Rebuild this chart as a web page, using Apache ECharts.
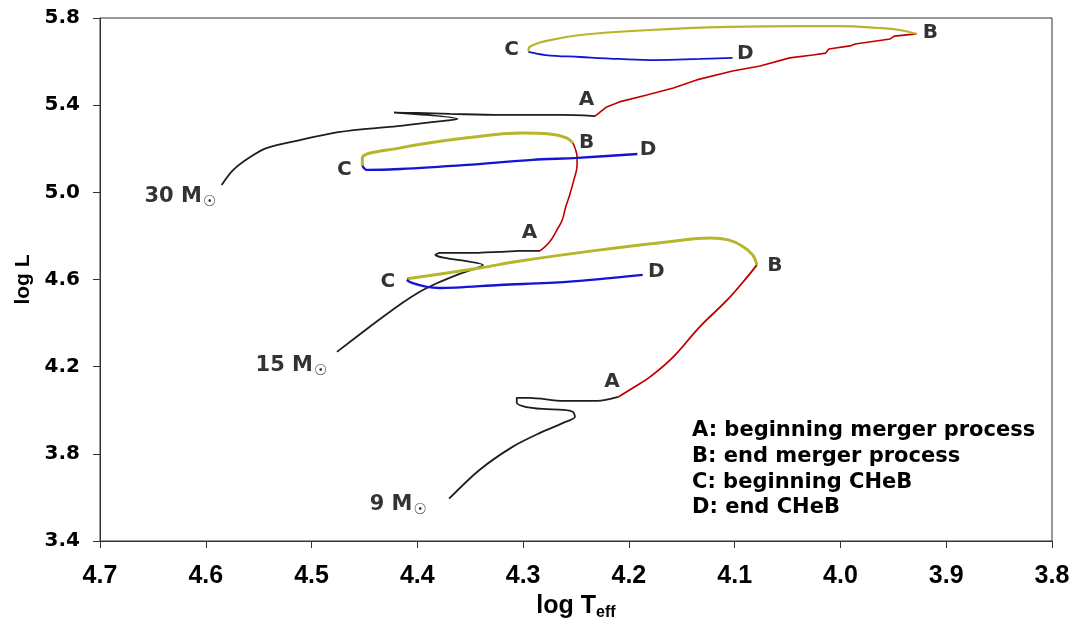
<!DOCTYPE html>
<html><head><meta charset="utf-8">
<script src="https://cdn.jsdelivr.net/npm/echarts@6/dist/echarts.min.js"></script>
<style>html,body{margin:0;padding:0;background:#fff}#c{width:1075px;height:637px}</style>
</head><body><div id="c"></div>
<script>
// ---- data (log Teff, log L) ----
const black30 = [[4.585,5.034],[4.574,5.103],[4.558,5.162],[4.542,5.204],[4.511,5.240],[4.480,5.272],[4.448,5.291],[4.416,5.305],[4.385,5.323],[4.362,5.337],[4.422,5.366],[4.400,5.364],[4.369,5.360],[4.322,5.355],[4.265,5.355],[4.232,5.350]];
const red30 = [[4.232,5.350],[4.221,5.392],[4.209,5.415],[4.183,5.447],[4.158,5.479],[4.136,5.516],[4.102,5.557],[4.076,5.580],[4.048,5.617],[4.026,5.630],[4.014,5.639],[4.011,5.658],[3.991,5.672],[3.986,5.681],[3.953,5.704],[3.949,5.717],[3.928,5.727]];
const yellow30 = [[3.928,5.727],[3.944,5.745],[3.963,5.754],[4.001,5.763],[4.038,5.763],[4.105,5.759],[4.180,5.745],[4.246,5.722],[4.279,5.694],[4.294,5.667],[4.295,5.649]];
const blue30 = [[4.295,5.644],[4.279,5.630],[4.246,5.621],[4.209,5.612],[4.175,5.607],[4.133,5.612],[4.102,5.617]];

const black15 = [[4.476,4.268],[4.445,4.383],[4.414,4.493],[4.398,4.543],[4.381,4.584],[4.360,4.626],[4.338,4.667],[4.355,4.685],[4.374,4.699],[4.383,4.713],[4.379,4.722],[4.350,4.722],[4.322,4.727],[4.303,4.731],[4.284,4.731]];
const red15 = [[4.284,4.731],[4.275,4.772],[4.268,4.828],[4.263,4.873],[4.260,4.928],[4.256,4.988],[4.252,5.057],[4.249,5.126],[4.249,5.162],[4.251,5.204],[4.253,5.227]];
const yellow15 = [[4.253,5.227],[4.259,5.250],[4.275,5.268],[4.300,5.272],[4.353,5.250],[4.416,5.204],[4.452,5.158],[4.452,5.121]];
const blue15 = [[4.452,5.121],[4.448,5.103],[4.416,5.107],[4.353,5.126],[4.291,5.149],[4.249,5.158],[4.192,5.176]];

const black9 = [[4.370,3.594],[4.341,3.727],[4.310,3.832],[4.284,3.896],[4.262,3.942],[4.251,3.970],[4.253,3.993],[4.262,4.002],[4.281,4.006],[4.298,4.016],[4.306,4.034],[4.306,4.057],[4.294,4.057],[4.262,4.043],[4.230,4.043],[4.210,4.061]];
const red9 = [[4.210,4.061],[4.196,4.103],[4.180,4.153],[4.158,4.245],[4.133,4.383],[4.107,4.506],[4.088,4.612],[4.079,4.667]];
const yellow9 = [[4.079,4.667],[4.083,4.713],[4.093,4.754],[4.106,4.782],[4.123,4.791],[4.164,4.772],[4.227,4.736],[4.303,4.685],[4.341,4.653],[4.410,4.603]];
const blue9 = [[4.410,4.598],[4.405,4.584],[4.391,4.566],[4.379,4.561],[4.322,4.575],[4.259,4.589],[4.187,4.621]];

const pointLabels = [[4.240,5.424,'A'],[3.915,5.731,'B'],[4.311,5.653,'C'],[4.090,5.635,'D'],
                     [4.294,4.814,'A'],[4.240,5.227,'B'],[4.469,5.103,'C'],[4.182,5.194,'D'],
                     [4.216,4.130,'A'],[4.062,4.662,'B'],[4.428,4.589,'C'],[4.174,4.635,'D']];
const massLabels = [[4.624,4.979,'30'],[4.519,4.204,'15'],[4.418,3.566,'9']];
const legendLines = ['A: beginning merger process','B: end merger process','C: beginning CHeB','D: end CHeB'];
const xTicks = {min:3.8, max:4.7, step:0.1};
const yTicks = {min:3.4, max:5.8, step:0.4};

// ---- styles ----
const C = {black:'#1e1e1e', red:'#c00000', yellow:'#b6b62c', blue:'#1414d4'};
const FONT = 'Liberation Sans, Arial, sans-serif';
const WIDE = 'DejaVu Sans, sans-serif';
const NARROW = 'Liberation Sans Narrow, Arial Narrow, Liberation Sans, sans-serif';

function line(data, color, width, smooth){
  return {type:'line', data:data, showSymbol:false, symbol:'none', smooth:smooth||0,
          lineStyle:{color:color, width:width}, silent:true, z:2};
}

const series = [
  line(black30,C.black,1.8,0.3), line(red30,C.red,1.6,0), line(yellow30,C.yellow,2.2,0.4), line(blue30,C.blue,1.8,0.4),
  line(black15,C.black,1.8,0.2), line(red15,C.red,1.6,0.4), line(yellow15,C.yellow,3,0.4), line(blue15,C.blue,2.4,0.3),
  line(black9,C.black,1.8,0.3), line(red9,C.red,1.8,0.4), line(yellow9,C.yellow,3,0.4), line(blue9,C.blue,2.4,0.3),
  {type:'scatter', symbolSize:0, silent:true, z:5,
   data: pointLabels.map(p=>({value:[p[0],p[1]], name:p[2]})),
   label:{show:true, position:'inside', formatter:p=>p.name, color:'#000', textBorderWidth:0,
          fontFamily:WIDE, fontWeight:'bold', fontSize:20}},
  {type:'scatter', symbolSize:0, silent:true, z:5,
   data: massLabels.map(p=>({value:[p[0],p[1]], name:p[2]})),
   label:{show:true, position:'inside', formatter:p=>'{a|'+p.name+' M}{s|☉}', textBorderWidth:0,
          rich:{a:{color:'#000', fontFamily:WIDE, fontWeight:'bold', fontSize:21},
                s:{color:'#000', fontFamily:WIDE, fontWeight:'bold', fontSize:15, padding:[10,0,0,1]}}}}
];

const chart = echarts.init(document.getElementById('c'), null, {renderer:'canvas'});
chart.setOption({
  animation:false,
  backgroundColor:'#fff',
  grid:{left:100, right:23, top:18, bottom:96, show:true, borderColor:'#333', borderWidth:1},
  xAxis:{type:'value', inverse:true, min:xTicks.min, max:xTicks.max, interval:xTicks.step,
    axisLine:{show:true, onZero:false, lineStyle:{color:'#333', width:1}},
    axisTick:{show:true, inside:false, length:7, lineStyle:{color:'#333'}},
    splitLine:{show:false},
    axisLabel:{margin:23, color:'#000', fontFamily:NARROW, fontWeight:'bold', fontSize:25,
               formatter:v=>v.toFixed(1)},
    name:'{a|log T}{s|eff}', nameLocation:'middle', nameGap:45,
    nameTextStyle:{rich:{a:{fontFamily:NARROW, fontWeight:'bold', fontSize:25, color:'#000'},
                         s:{fontFamily:NARROW, fontWeight:'bold', fontSize:16, color:'#000', padding:[12,0,0,0]}}}
  },
  yAxis:{type:'value', min:yTicks.min, max:yTicks.max, interval:yTicks.step,
    axisLine:{show:true, onZero:false, lineStyle:{color:'#333', width:1}},
    axisTick:{show:true, inside:false, length:7, lineStyle:{color:'#333'}},
    splitLine:{show:false},
    axisLabel:{margin:20, color:'#000', fontFamily:WIDE, fontWeight:'bold', fontSize:20,
               formatter:v=>v.toFixed(1)},
    name:'log L', nameLocation:'middle', nameGap:58, nameRotate:90,
    nameTextStyle:{fontFamily:FONT, fontWeight:'bold', fontSize:21, color:'#000'}
  },
  graphic:[{type:'text', left:692, top:418, z:10,
    style:{text:legendLines.join('\n'), fill:'#000', font:'bold 21px '+WIDE, lineHeight:25.7}}],
  series:series
});
</script></body></html>
